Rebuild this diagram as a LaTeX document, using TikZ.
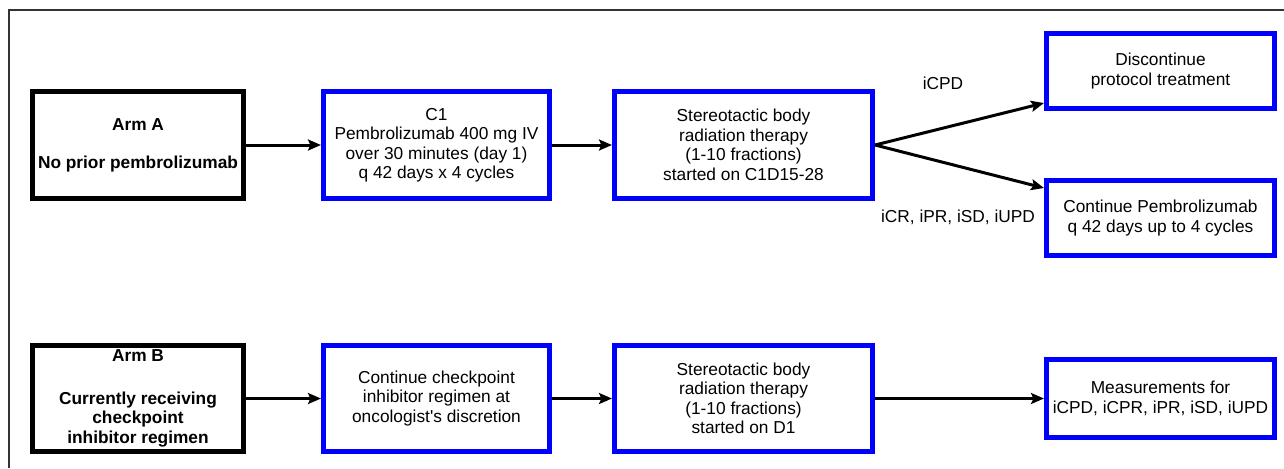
\documentclass[tikz,border=0pt]{standalone}
\usepackage{fontspec}
\setmainfont{Liberation Sans}
\usetikzlibrary{arrows.meta,calc}
\begin{document}
\begin{tikzpicture}
	[x=0.02cm,y=-0.02cm,
	every node/.style={font=\fontsize{9.85}{11.1}\selectfont,align=center},
	armbox/.style={draw=black,line width=2.6pt,inner sep=0pt,minimum width=211.5*0.02cm,minimum height=107.5*0.02cm,font=\fontsize{9.85}{11.1}\selectfont\bfseries},
	stepbox/.style={draw=blue,line width=2.6pt,inner sep=0pt,minimum width=226.5*0.02cm,minimum height=107.5*0.02cm},
	widebox/.style={stepbox,minimum width=258.5*0.02cm},
	endbox/.style={stepbox,minimum width=228.5*0.02cm,minimum height=75.5*0.02cm},
	flow/.style={line width=1.7pt,-{Stealth[length=2.6mm,width=2.2mm,inset=0.5mm]}}]
	\useasboundingbox (0,0) rectangle (1284,468);
	\draw[line width=0.8pt,black!80] (1284,10) -- (9,10) -- (9,468);
	\node[armbox] (armA) at (138,145) {Arm A\\[10.5pt]No prior pembrolizumab};
	\node[stepbox] (cycleA) at (436.5,145) {C1\\Pembrolizumab 400 mg IV\\over 30 minutes (day 1)\\q 42 days x 4 cycles};
	\node[widebox] (sbrtA) at (743.5,145) {Stereotactic body\\radiation therapy\\(1-10 fractions)\\started on C1D15-28};
	\node[endbox] (stop) at (1160.5,71) {Discontinue\\protocol treatment};
	\node[endbox] (keep) at (1160.5,218) {Continue Pembrolizumab\\q 42 days up to 4 cycles};
	\node (icpd) at (943,83) {iCPD};
	\node (icr) at (958,217) {iCR, iPR, iSD, iUPD};
	\node[armbox,minimum height=106.5*0.02cm] (armB) at (138,398.5) {Arm B\\[13pt]Currently receiving\\checkpoint\\inhibitor regimen};
	\node[stepbox,minimum height=106.5*0.02cm] (cycleB) at (436.5,398.5) {Continue checkpoint\\inhibitor regimen at\\oncologist\textquotesingle s discretion};
	\node[widebox,minimum height=106.5*0.02cm] (sbrtB) at (743.5,398.5) {Stereotactic body\\radiation therapy\\(1-10 fractions)\\started on D1};
	\node[endbox,minimum height=77.5*0.02cm] (measure) at (1160.5,398.5) {Measurements for\\iCPD, iCPR, iPR, iSD, iUPD};
	\draw[flow] (armA) -- (cycleA);
	\draw[flow] (cycleA) -- (sbrtA);
	\draw[flow] (sbrtA.east) -- ($(stop.south west)!0.1!(stop.north west)$);
	\draw[flow] (sbrtA.east) -- ($(keep.north west)!0.125!(keep.south west)$);
	\draw[flow] (armB) -- (cycleB);
	\draw[flow] (cycleB) -- (sbrtB);
	\draw[flow] (sbrtB) -- (measure);
\end{tikzpicture}
\end{document}
